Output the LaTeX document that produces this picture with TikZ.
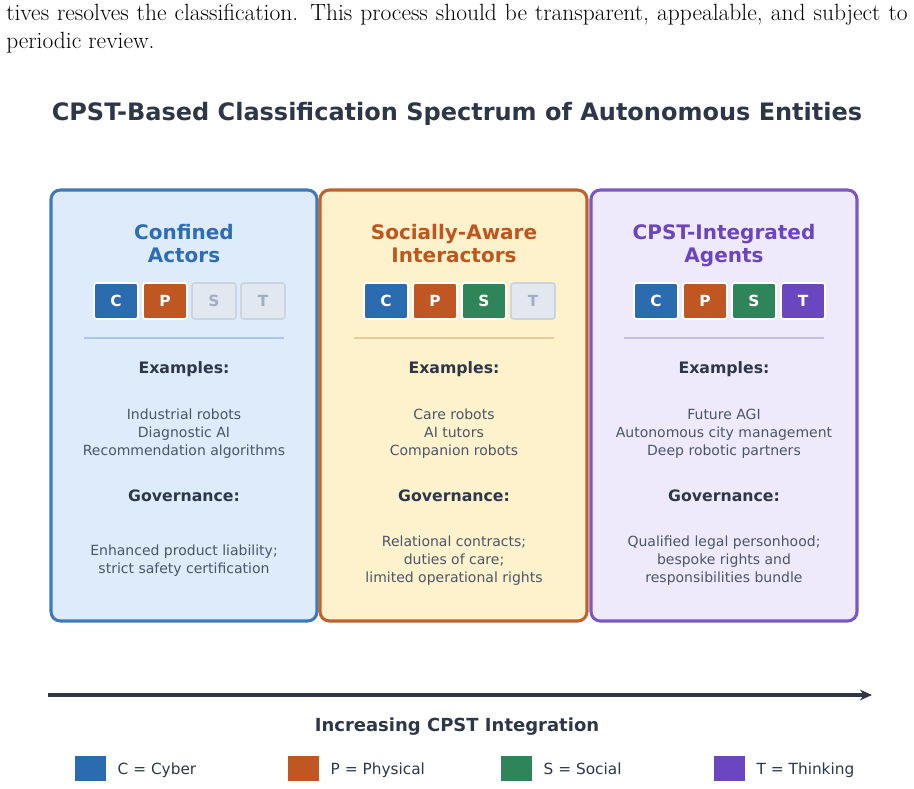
\documentclass[tikz,border=0pt]{standalone}
\usepackage{fontspec}
\usetikzlibrary{arrows.meta}
\newfontfamily\dv{DejaVu Sans}
\definecolor{cC}{HTML}{2B6CB0}\definecolor{cP}{HTML}{C05621}
\definecolor{cS}{HTML}{2F855A}\definecolor{cT}{HTML}{6B46C1}
\definecolor{dk}{HTML}{2D3748}\definecolor{gy}{HTML}{4A5568}
\definecolor{offf}{HTML}{E2E8F0}\definecolor{offd}{HTML}{CBD5E0}\definecolor{offt}{HTML}{A0AEC0}
\definecolor{b1}{HTML}{3D7AB8}\definecolor{f1}{HTML}{DDEBFB}\definecolor{t1}{HTML}{2E6DB4}\definecolor{s1}{HTML}{A9C7E6}
\definecolor{b2}{HTML}{C0622E}\definecolor{f2}{HTML}{FDF2CC}\definecolor{t2}{HTML}{C0561F}\definecolor{s2}{HTML}{EBC99A}
\definecolor{b3}{HTML}{7C56C4}\definecolor{f3}{HTML}{EEEAFC}\definecolor{t3}{HTML}{6B45C0}\definecolor{s3}{HTML}{C6BDE6}
\tikzset{
 panel/.style={draw=#1, line width=2.3pt, rounded corners=7pt},
 ptitle/.style={text=#1, font=\dv\bfseries\fontsize{15}{17}\selectfont, align=center, anchor=base},
 badge/.style={fill=#1, draw=white, line width=1.2pt, rounded corners=2pt, minimum width=33pt, minimum height=27pt, text=white, font=\dv\bfseries\fontsize{11.5}{12}\selectfont, inner sep=0pt},
 badgeoff/.style={fill=offf, draw=offd, line width=1.2pt, rounded corners=2pt, minimum width=33pt, minimum height=27pt, text=offt, font=\dv\bfseries\fontsize{11.5}{12}\selectfont, inner sep=0pt},
 head/.style={text=dk, font=\dv\bfseries\fontsize{11.8}{13}\selectfont},
 body/.style={text=gy, font=\dv\fontsize{10.5}{13.5}\selectfont, align=center, anchor=base},
 leg/.style={text=dk, font=\dv\fontsize{11.5}{13}\selectfont, anchor=base west},
}
\begin{document}
\begin{tikzpicture}[x=0.75pt,y=-0.75pt]
\useasboundingbox (0,0) rectangle (914,789);
\node[anchor=base west, inner sep=0pt, font=\fontsize{17.6}{19}\selectfont] (l1) at (6,20) {\makebox[676pt][s]{tives resolves the classification. This process should be transparent, appealable, and subject to}};
\node[anchor=base west, inner sep=0pt, font=\fontsize{17.6}{19}\selectfont] (l2) at (6,48) {periodic review.};
\node[text=dk, font=\dv\bfseries\fontsize{18}{20}\selectfont] (title) at (457,114) {CPST-Based Classification Spectrum of Autonomous Entities};
% panels
\foreach \i/\xa/\xb/\cx in {1/51/317/184, 2/320/587/454, 3/591/857/724}{
  \draw[panel=b\i, fill=f\i] (\xa,190) rectangle (\xb,621);
  \draw[s\i, line width=1pt] (\cx-100,338) -- (\cx+100,338);
  \node[head] (ex\i) at (\cx,369) {Examples:};
  \node[head] (gv\i) at (\cx,496) {Governance:};
}
\node[ptitle=t1] (ti1) at (184,262) {Confined\\Actors};
\node[ptitle=t2] (ti2) at (454,262) {Socially-Aware\\Interactors};
\node[ptitle=t3] (ti3) at (724,262) {CPST-Integrated\\Agents};
% badges
\node[badge=cC] (a1) at (116,301) {C};\node[badge=cP] (a2) at (165,301) {P};
\node[badgeoff] (a3) at (214,301) {S};\node[badgeoff] (a4) at (263,301) {T};
\node[badge=cC] (b1n) at (386,301) {C};\node[badge=cP] (b2n) at (435,301) {P};
\node[badge=cS] (b3n) at (484,301) {S};\node[badgeoff] (b4n) at (533,301) {T};
\node[badge=cC] (c1) at (656,301) {C};\node[badge=cP] (c2) at (705,301) {P};
\node[badge=cS] (c3) at (754,301) {S};\node[badge=cT] (c4) at (803,301) {T};
% examples
\node[body] (e1) at (184,455) {Industrial robots\\Diagnostic AI\\Recommendation algorithms};
\node[body] (e2) at (454,455) {Care robots\\AI tutors\\Companion robots};
\node[body] (e3) at (724,455) {Future AGI\\Autonomous city management\\Deep robotic partners};
\node[body] (g1) at (184,573) {Enhanced product liability;\\strict safety certification};
\node[body] (g2) at (454,582) {Relational contracts;\\duties of care;\\limited operational rights};
\node[body] (g3) at (724,582) {Qualified legal personhood;\\bespoke rights and\\responsibilities bundle};
% arrow
\coordinate (as) at (48,695); \coordinate (ae) at (872,695);
\draw[dk, line width=3pt, -{Stealth[length=9pt,width=8pt]}] (as) -- (ae);
\node[text=dk, font=\dv\bfseries\fontsize{13.5}{15}\selectfont] (inc) at (457,727) {Increasing CPST Integration};
% legend
\foreach \c/\x/\t/\n in {cC/75/{C = Cyber}/lc, cP/288/{P = Physical}/lp, cS/501/{S = Social}/ls, cT/714/{T = Thinking}/lt}{
  \fill[\c] (\x,756) rectangle (\x+31,781);
  \node[leg] (\n) at (\x+38,774) {\t};
}
\end{tikzpicture}
\end{document}
